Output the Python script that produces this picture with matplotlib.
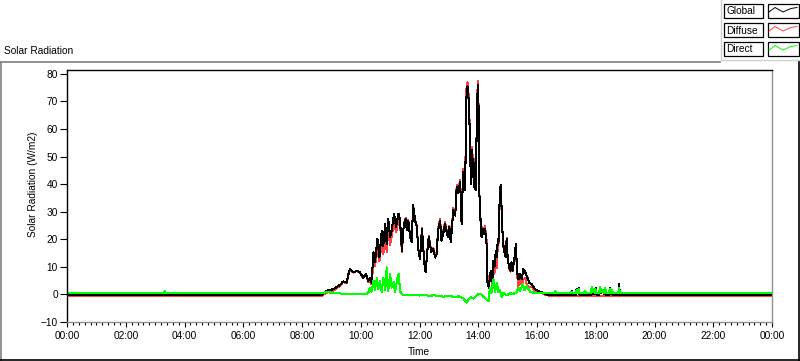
import numpy as np
import matplotlib
matplotlib.use("Agg")
import matplotlib.pyplot as plt
from matplotlib.patches import Rectangle
from matplotlib.lines import Line2D
from matplotlib.ticker import MultipleLocator, FuncFormatter

plt.rcParams['font.family'] = ['Liberation Sans', 'DejaVu Sans']

global_min = [0, 521, 530, 544, 558, 564, 571, 575, 578, 585, 592, 598, 605, 611, 615,
              620, 622, 626, 629, 634, 638, 643, 646, 650, 653, 656, 660, 663, 668, 672,
              677, 680, 684, 688, 692, 694, 697, 701, 704, 707, 711, 714, 718, 721, 725,
              728, 731, 733, 735, 739, 744, 748, 752, 755, 758, 762, 765, 769, 772, 778,
              781, 784, 789, 793, 796, 799, 803, 806, 809, 813, 815, 816, 818, 821, 823,
              825, 827, 829, 830, 832, 835, 837, 839, 841, 842, 844, 845, 847, 849, 852,
              854, 856, 857, 859, 862, 864, 866, 869, 871, 873, 876, 878, 880, 882, 884,
              886, 889, 891, 893, 896, 898, 900, 903, 906, 908, 910, 914, 917, 919, 922,
              925, 929, 932, 936, 939, 944, 949, 956, 966, 976, 983]
global_val = [-0.2, -0.2, 1.3, 1.9, 3.5, 4.7, 4.3, 7.4, 9.2, 8.0, 8.6, 8.0, 6.1, 7.4, 4.9,
              6.1, 4.3, 15.3, 11.6, 20.1, 13.4, 23.2, 17.7, 25.6, 18.3, 27.4, 20.7, 23.2, 29.3, 24.4,
              29.3, 27.5, 15.9, 25.6, 27.4, 23.2, 26.8, 20.7, 18.9, 32.3, 26.8, 25.0, 15.9, 12.8, 23.8,
              15.9, 9.2, 8.0, 14.0, 20.7, 15.3, 16.5, 13.4, 14.7, 23.2, 26.8, 19.5, 22.6, 25.6, 20.7,
              24.4, 18.9, 30.5, 28.6, 39.0, 36.6, 40.8, 25.6, 44.5, 37.8, 58.5, 71.8, 75.5, 69.4, 56.0,
              40.2, 52.4, 42.6, 49.3, 39.0, 37.8, 63.3, 76.0, 65.8, 36.6, 32.9, 23.2, 20.7, 23.8, 22.0,
              23.8, 19.5, 18.3, 3.7, 2.5, 7.4, 8.6, 4.9, 12.2, 9.8, 15.9, 13.4, 20.1, 19.5, 37.8,
              39.6, 24.4, 18.3, 15.9, 13.4, 20.1, 13.4, 9.8, 8.6, 11.6, 8.6, 13.4, 18.3, 8.6, 5.5,
              7.4, 5.5, 9.2, 8.0, 6.8, 4.3, 3.7, 1.9, 1.0, 0.3, -0.2]
diffuse_val = [-0.4, -0.4, 0.6, 1.3, 3.2, 4.5, 4.1, 7.2, 9.0, 7.9, 8.5, 7.9, 6.0, 7.3, 4.5,
               4.8, 3.8, 11.5, 10.3, 16.5, 12.0, 19.0, 14.5, 21.5, 15.5, 23.0, 18.0, 21.0, 26.5, 22.5,
               26.5, 26.5, 15.5, 25.6, 27.8, 23.5, 27.1, 21.0, 19.1, 32.5, 27.0, 25.3, 16.2, 13.2, 24.1,
               16.2, 9.5, 8.3, 14.4, 21.2, 15.8, 16.9, 13.8, 15.1, 23.8, 27.5, 20.0, 23.3, 26.3, 21.2,
               24.9, 19.5, 31.3, 29.3, 39.8, 37.3, 41.6, 26.4, 45.6, 39.5, 60.8, 74.5, 77.0, 71.2, 57.3,
               41.2, 53.6, 43.8, 50.6, 40.2, 38.5, 63.8, 77.5, 66.2, 36.9, 33.0, 23.3, 20.7, 24.3, 22.7,
               24.9, 20.9, 19.8, 5.8, 4.5, 5.2, 7.2, 2.5, 7.5, 7.5, 13.0, 9.5, 18.8, 18.5, 36.5,
               39.3, 24.6, 17.8, 15.7, 13.5, 20.4, 13.5, 9.6, 8.2, 11.3, 8.4, 13.1, 17.7, 7.7, 3.0,
               6.2, 3.0, 5.5, 6.0, 3.7, 2.5, 2.9, 1.2, 0.7, 0.0, -0.4]

# evening blips on the global trace
late_min = [1029, 1031, 1033, 1039, 1041, 1043, 1045, 1047, 1056, 1058, 1060, 1070, 1072,
            1074, 1076, 1078, 1080, 1082, 1087, 1089, 1091, 1095, 1097, 1099, 1101, 1107,
            1109, 1111, 1113, 1115, 1126, 1128, 1129, 1440]
late_val = [-0.2, 1.3, -0.2, -0.2, 1.9, 0.5, 2.3, -0.2, -0.2, 0.8, -0.2, -0.2, 2.5,
            0.3, 1.5, 0.2, 2.3, -0.2, -0.2, 2.5, 0.5, 1.2, 0.2, 2.3, -0.2, -0.2,
            2.3, 0.3, 1.0, -0.2, -0.2, 3.9, -0.2, -0.2]

direct_min = [0, 198, 200, 202, 521, 530, 545, 560, 580, 600, 610, 615, 619, 622, 626,
              629, 633, 636, 639, 643, 646, 650, 653, 656, 660, 663, 667, 670, 675, 678,
              680, 684, 688, 700, 710, 720, 730, 740, 750, 760, 770, 780, 790, 800, 810,
              816, 820, 825, 830, 835, 840, 847, 850, 855, 861, 864, 867, 871, 874, 878,
              881, 884, 888, 891, 898, 905, 911, 918, 922, 925, 931, 934, 939, 946, 952,
              966, 995, 997, 999, 1029, 1031, 1033, 1039, 1041, 1043, 1045, 1047, 1056, 1058,
              1060, 1070, 1072, 1074, 1076, 1078, 1080, 1082, 1087, 1089, 1091, 1095, 1097,
              1099, 1101, 1107, 1109, 1111, 1113, 1115, 1126, 1128, 1129, 1440]
direct_val = [0.6, 0.6, 1.1, 0.6, 0.6, 0.8, 0.6, 0.3, 0.2, 0.1, 0.1, 0.5, 2.5, 1.0, 4.9,
              1.5, 6.1, 2.0, 4.9, 0.8, 6.1, 1.5, 9.8, 1.3, 7.4, 2.5, 4.5, 0.8, 6.1, 7.4,
              1.3, 0.1, -0.2, -0.3, -0.1, -0.4, -0.2, -0.5, -0.3, -0.6, -0.8, -0.5, -0.9, -0.7, -1.5,
              -3.0, -1.8, -1.0, -1.5, -0.6, 0.0, 0.0, -0.8, -1.5, -2.4, 2.5, 0.5, 5.5, 1.0, 4.3,
              0.8, 1.5, -1.0, 0.5, -0.3, 0.4, 0.2, 0.7, 2.5, 1.2, 3.7, 1.5, 3.1, 1.0, 0.7,
              0.5, 0.5, 1.3, 0.5, 0.5, 1.0, 0.5, 0.5, 1.5, 0.6, 2.0, 0.5, 0.5, 1.2,
              0.5, 0.5, 2.8, 0.8, 2.0, 0.6, 1.8, 0.5, 0.5, 2.8, 0.7, 1.5, 0.6,
              2.5, 0.5, 0.5, 2.0, 0.6, 1.5, 0.5, 0.5, 2.5, 0.5, 0.5]

W, H = 800, 361
fig = plt.figure(figsize=(W / 100, H / 100), dpi=100)

def fx(x):
    return x / W

def fy(y):
    return 1 - y / H

# plot box: x 67..772, y 70..322 (pixels)
ax = fig.add_axes([fx(67), fy(322), (772 - 67) / W, (322 - 70) / H])

g_h = np.array(global_min + late_min) / 60.0
g_v = np.array(global_val + late_val)
d_h = np.array(global_min + [1440]) / 60.0
d_v = np.array(diffuse_val + [-0.4])
s_h = np.array(direct_min) / 60.0
s_v = np.array(direct_val)

ax.plot(d_h, d_v, color='#ff4040', lw=0.75, antialiased=False)
ax.plot(g_h, g_v, color='black', lw=0.75, antialiased=False)
ax.plot(s_h, s_v, color='#00ff00', lw=0.75, antialiased=False)

ax.set_xlim(0, 24)
ax.set_ylim(-10, 81.4)
ax.yaxis.set_major_locator(MultipleLocator(10))
ax.xaxis.set_major_locator(MultipleLocator(2))
ax.xaxis.set_minor_locator(MultipleLocator(0.2))
ax.xaxis.set_major_formatter(FuncFormatter(lambda v, p: '%02d:00' % (int(round(v)) % 24)))

ax.tick_params(axis='y', direction='out', length=5, width=0.8, pad=1.5, labelsize=7.3)
ax.tick_params(axis='x', which='major', direction='out', length=3.6, width=0.8, pad=3, labelsize=7.3)
ax.tick_params(axis='x', which='minor', direction='out', length=1.8, width=0.8)

for side in ('left', 'top'):
    ax.spines[side].set_color('black')
for side in ('right', 'bottom'):
    ax.spines[side].set_color('#909090')
for s in ax.spines.values():
    s.set_linewidth(1.0)

fig.text(fx(33), fy(184), 'Solar Radiation (W/m2)', rotation=90, ha='center', va='center', fontsize=7.3)
fig.text(fx(419), fy(352), 'Time', ha='center', va='center', fontsize=7.3)
fig.text(fx(4), fy(51), 'Solar Radiation', ha='left', va='center', fontsize=7.3)

# outer panel frame
fig.add_artist(Line2D([fx(0), fx(720)], [fy(61.5), fy(61.5)], color='#808080', lw=1.2))
fig.add_artist(Line2D([fx(0.6), fx(0.6)], [fy(61.5), fy(360)], color='#808080', lw=1.2))
fig.add_artist(Line2D([fx(0), fx(800)], [fy(360), fy(360)], color='black', lw=1.2))
fig.add_artist(Line2D([fx(799.3), fx(799.3)], [fy(61), fy(361)], color='black', lw=1.2))

# legend panel
fig.add_artist(Line2D([fx(721), fx(721)], [fy(0), fy(60)], color='#d0d0d0', lw=1.0))
fig.add_artist(Line2D([fx(721), fx(800)], [fy(60), fy(60)], color='#d0d0d0', lw=1.0))

names = ['Global', 'Diffuse', 'Direct']
colors = ['black', '#ff4040', '#00ff00']
tops = [4, 23, 42]
for name, col, top in zip(names, colors, tops):
    fig.add_artist(Rectangle((fx(724), fy(top + 14)), 39 / W, 14 / H, transform=fig.transFigure,
                             facecolor='white', edgecolor='black', lw=0.9))
    fig.add_artist(Rectangle((fx(767.5), fy(top + 14)), 31 / W, 14 / H, transform=fig.transFigure,
                             facecolor='white', edgecolor='black', lw=0.9))
    fig.text(fx(726.5), fy(top + 7.5), name, ha='left', va='center', fontsize=7.3)
    zx = [769, 775, 783, 791, 797]
    zy = [top + 8, top + 3.5, top + 8, top + 4.5, top + 3.5]
    fig.add_artist(Line2D([fx(v) for v in zx], [fy(v) for v in zy], color=col, lw=0.7))

fig.savefig('out.png', dpi=100)
